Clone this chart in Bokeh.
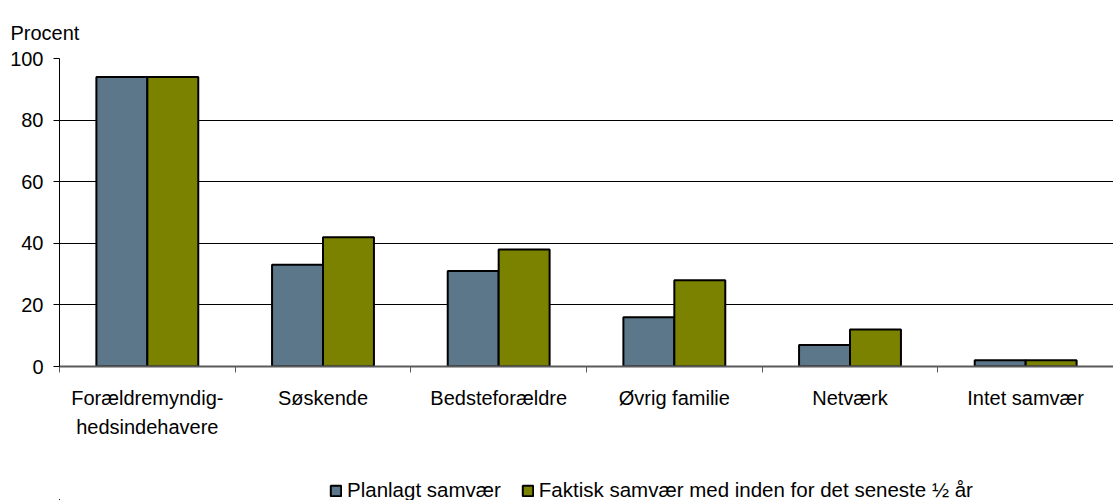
from bokeh.plotting import figure
from bokeh.layouts import column
from bokeh.models import (ColumnDataSource, Range1d, FixedTicker, LinearAxis,
                          Legend, LegendItem)
from bokeh.transform import dodge
from bokeh.embed import file_html
from bokeh.resources import INLINE

categories = ["Forældremyndig-\nhedsindehavere", "Søskende", "Bedsteforældre",
              "Øvrig familie", "Netværk", "Intet samvær"]
planlagt = [94, 33, 31, 16, 7, 2]
faktisk = [94, 42, 38, 28, 12, 2]
series_names = ["Planlagt samvær", "Faktisk samvær med inden for det seneste ½ år"]
y_ticks = [0, 20, 40, 60, 80, 100]

FONT = "Liberation Sans"
FS = "20px"
BLUE = "#5B7789"
GREEN = "#7A8200"

xpos = [i + 0.5 for i in range(len(categories))]
src = ColumnDataSource(dict(x=xpos, planlagt=planlagt, faktisk=faktisk))

p = figure(width=1113, height=476, output_backend="svg", toolbar_location=None,
           x_range=Range1d(0, len(categories)), y_range=Range1d(0, 100),
           min_border_left=59, min_border_right=0, min_border_top=58,
           min_border_bottom=110, x_axis_type=None)
p.outline_line_color = None
p.background_fill_color = "white"
p.border_fill_color = "white"

p.title.text = "Procent"
p.title.text_font = FONT
p.title.text_font_size = FS
p.title.text_font_style = "normal"
p.title.text_color = "black"
p.title.align = "left"
p.title.offset = -49
p.title.standoff = 29

w = 0.29
bar_style = dict(width=w, line_color="black", line_width=2)
r1 = p.vbar(x=dodge("x", -w / 2, range=p.x_range), top="planlagt", source=src,
            fill_color=BLUE, **bar_style)
r2 = p.vbar(x=dodge("x", w / 2, range=p.x_range), top="faktisk", source=src,
            fill_color=GREEN, **bar_style)

# y axis
yax = p.yaxis[0]
yax.ticker = FixedTicker(ticks=y_ticks)
yax.axis_line_color = "black"
yax.axis_line_width = 1
yax.major_tick_line_color = "black"
yax.major_tick_out = 6
yax.major_tick_in = 0
yax.minor_tick_line_color = None
yax.major_label_text_font = FONT
yax.major_label_text_font_size = FS
yax.major_label_text_color = "black"
yax.major_label_standoff = 10

p.ygrid.ticker = FixedTicker(ticks=y_ticks)
p.ygrid.grid_line_color = "black"
p.ygrid.grid_line_width = 1
p.xgrid.grid_line_color = None

# x axis: boundary ticks
xax = LinearAxis(ticker=FixedTicker(ticks=list(range(len(categories) + 1))))
xax.axis_line_color = "#5a5a5a"
xax.axis_line_width = 2
xax.major_tick_line_color = "#5a5a5a"
xax.major_tick_line_width = 1
xax.major_tick_out = 6
xax.major_tick_in = 0
xax.minor_tick_line_color = None
xax.major_label_text_font_size = "0px"
xax.major_label_text_color = None
xax.major_label_standoff = 0
p.add_layout(xax, "below")

# x axis: category labels
lab = LinearAxis(ticker=FixedTicker(ticks=xpos),
                 major_label_overrides={x: c for x, c in zip(xpos, categories)})
lab.axis_line_color = None
lab.major_tick_line_color = None
lab.minor_tick_line_color = None
lab.major_label_text_font = FONT
lab.major_label_text_font_size = FS
lab.major_label_text_color = "black"
lab.major_label_text_line_height = 1.35
lab.major_label_standoff = 8
p.add_layout(lab, "below")

# legend strip (bars drawn from the same data but outside this strip's view)
pl = figure(width=1113, height=24, output_backend="svg", toolbar_location=None,
            x_axis_type=None, y_axis_type=None, min_border=0,
            x_range=Range1d(20, 21), y_range=Range1d(200, 201))
pl.outline_line_color = None
pl.xgrid.visible = False
pl.ygrid.visible = False
l1 = pl.vbar(x="x", top="planlagt", source=src, fill_color=BLUE, **bar_style)
l2 = pl.vbar(x="x", top="faktisk", source=src, fill_color=GREEN, **bar_style)
legend = Legend(items=[LegendItem(label=series_names[0], renderers=[l1], index=0),
                       LegendItem(label=series_names[1], renderers=[l2], index=0)],
                orientation="horizontal", location=(270, -2),
                glyph_width=13, glyph_height=13, label_standoff=5, spacing=20,
                padding=0, margin=0, border_line_color=None,
                background_fill_alpha=0,
                label_text_font=FONT, label_text_font_size="20.5px",
                label_text_color="black", label_height=18)
pl.add_layout(legend, "center")

open("out.html", "w").write(file_html(column(p, pl, spacing=0), INLINE))
